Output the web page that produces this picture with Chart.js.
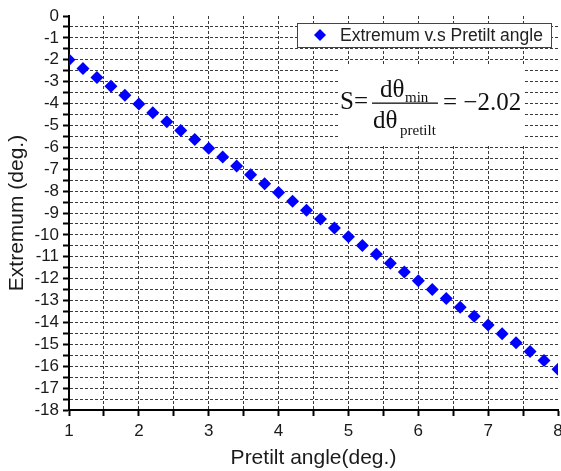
<!DOCTYPE html>
<html>
<head>
<meta charset="utf-8">
<script src="https://cdn.jsdelivr.net/npm/chart.js@4/dist/chart.umd.min.js"></script>
<style>
  html, body { margin: 0; padding: 0; background: #fff; }
  #wrap { width: 561px; height: 471px; }
</style>
</head>
<body>
<div id="wrap"><canvas id="c" width="561" height="471"></canvas></div>
<script>
// Pretilt angle (deg.) and the extremum angle (deg.) found at each one
const pretilt = [1.0, 1.2, 1.4, 1.6, 1.8, 2.0, 2.2, 2.4, 2.6, 2.8,
                 3.0, 3.2, 3.4, 3.6, 3.8, 4.0, 4.2, 4.4, 4.6, 4.8,
                 5.0, 5.2, 5.4, 5.6, 5.8, 6.0, 6.2, 6.4, 6.6, 6.8,
                 7.0, 7.2, 7.4, 7.6, 7.8, 8.0];
const extremum = [-2.00, -2.40, -2.81, -3.21, -3.62, -4.02, -4.42, -4.83, -5.23, -5.64,
                  -6.04, -6.44, -6.85, -7.25, -7.66, -8.06, -8.46, -8.87, -9.27, -9.68,
                  -10.08, -10.48, -10.89, -11.29, -11.70, -12.10, -12.50, -12.91, -13.31, -13.72,
                  -14.12, -14.52, -14.93, -15.33, -15.74, -16.14];
const seriesLabel = 'Extremum v.s Pretilt angle';
const xTitle = 'Pretilt angle(deg.)';
const yTitle = 'Extremum (deg.)';
const slopeText = '\u22122.02';

const SANS = '"Liberation Sans", Arial, sans-serif';
const SERIF = '"Liberation Serif", "Times New Roman", serif';

// legend box and slope annotation drawn inside the plot
const overlay = {
  id: 'overlay',
  afterDatasetsDraw(chart) {
    const ctx = chart.ctx;
    const ds = chart.data.datasets[0];
    ctx.save();
    // legend
    ctx.fillStyle = '#fff';
    ctx.fillRect(297, 23, 254, 24);
    ctx.strokeStyle = '#444';
    ctx.lineWidth = 1;
    ctx.strokeRect(297.5, 23.5, 254, 24);
    ctx.fillStyle = ds.pointBackgroundColor;
    ctx.beginPath();
    ctx.moveTo(320, 29); ctx.lineTo(326, 35); ctx.lineTo(320, 41); ctx.lineTo(314, 35);
    ctx.closePath(); ctx.fill();
    ctx.fillStyle = '#222';
    ctx.font = '17.5px ' + SANS;
    ctx.textBaseline = 'middle';
    ctx.textAlign = 'left';
    ctx.fillText(ds.label, 340, 36);

    // slope annotation
    ctx.fillStyle = '#fff';
    ctx.fillRect(338, 66, 187, 78);
    ctx.fillStyle = '#111';
    ctx.textBaseline = 'alphabetic';
    ctx.font = '25px ' + SERIF;
    ctx.fillText('S=', 340, 109);
    ctx.fillText('d\u03b8', 380, 97);
    ctx.fillText('d\u03b8', 373, 128);
    ctx.fillText('= ' + slopeText, 443, 110);
    ctx.font = '15px ' + SERIF;
    ctx.fillText('min', 405, 102);
    ctx.fillText('pretilt', 400, 135);
    ctx.fillRect(372, 102.5, 66, 1.3);
    ctx.restore();
  }
};

const gridDash = [3, 2];

new Chart(document.getElementById('c'), {
  type: 'scatter',
  data: {
    datasets: [{
      label: seriesLabel,
      data: pretilt.map((x, i) => ({ x: x, y: extremum[i] })),
      pointStyle: 'rectRot',
      pointRadius: 6.5,
      pointHoverRadius: 6.5,
      pointBackgroundColor: '#0000ff',
      pointBorderColor: '#0000ff',
      pointBorderWidth: 0,
      showLine: false
    }]
  },
  options: {
    responsive: false,
    animation: false,
    events: [],
    layout: { autoPadding: false, padding: { top: 16, right: 3, left: 0, bottom: 0 } },
    plugins: { legend: { display: false }, tooltip: { enabled: false } },
    scales: {
      x: {
        type: 'linear',
        min: 1, max: 8,
        afterFit(s) { s.height = 61; s.paddingLeft = 0; s.paddingRight = 0; },
        ticks: {
          stepSize: 0.5, autoSkip: false, maxRotation: 0,
          color: '#1a1a1a', padding: 5,
          font: { family: SANS, size: 17 },
          callback: v => Number.isInteger(v) ? String(v) : ''
        },
        grid: {
          color: c => (c.tick && c.tick.value === 8) ? 'rgba(0,0,0,0)' : '#3a3a3a',
          lineWidth: 1, tickLength: 6, tickColor: '#000', tickWidth: 2,
          tickBorderDash: []
        },
        border: { display: true, color: '#000', width: 2, dash: gridDash },
        title: {
          display: true, text: xTitle, color: '#1a1a1a',
          font: { family: SANS, size: 21 }, padding: { top: 0, bottom: 0 }
        }
      },
      y: {
        type: 'linear',
        min: -18, max: 0,
        afterFit(s) { s.width = 69; s.paddingTop = 0; s.paddingBottom = 0; },
        ticks: {
          stepSize: 0.5, autoSkip: false,
          color: '#1a1a1a', padding: 4,
          font: { family: SANS, size: 17 },
          callback: v => Number.isInteger(v) ? String(v) : ''
        },
        grid: {
          color: c => (c.tick && c.tick.value === 0) ? 'rgba(0,0,0,0)' : '#3a3a3a',
          lineWidth: 1, tickLength: 6, tickColor: '#000', tickWidth: 2,
          tickBorderDash: []
        },
        border: { display: true, color: '#000', width: 2, dash: gridDash },
        title: {
          display: true, text: yTitle, color: '#1a1a1a',
          font: { family: SANS, size: 21 }, padding: { top: 5, bottom: 0 }
        }
      }
    }
  },
  plugins: [overlay]
});
</script>
</body>
</html>
